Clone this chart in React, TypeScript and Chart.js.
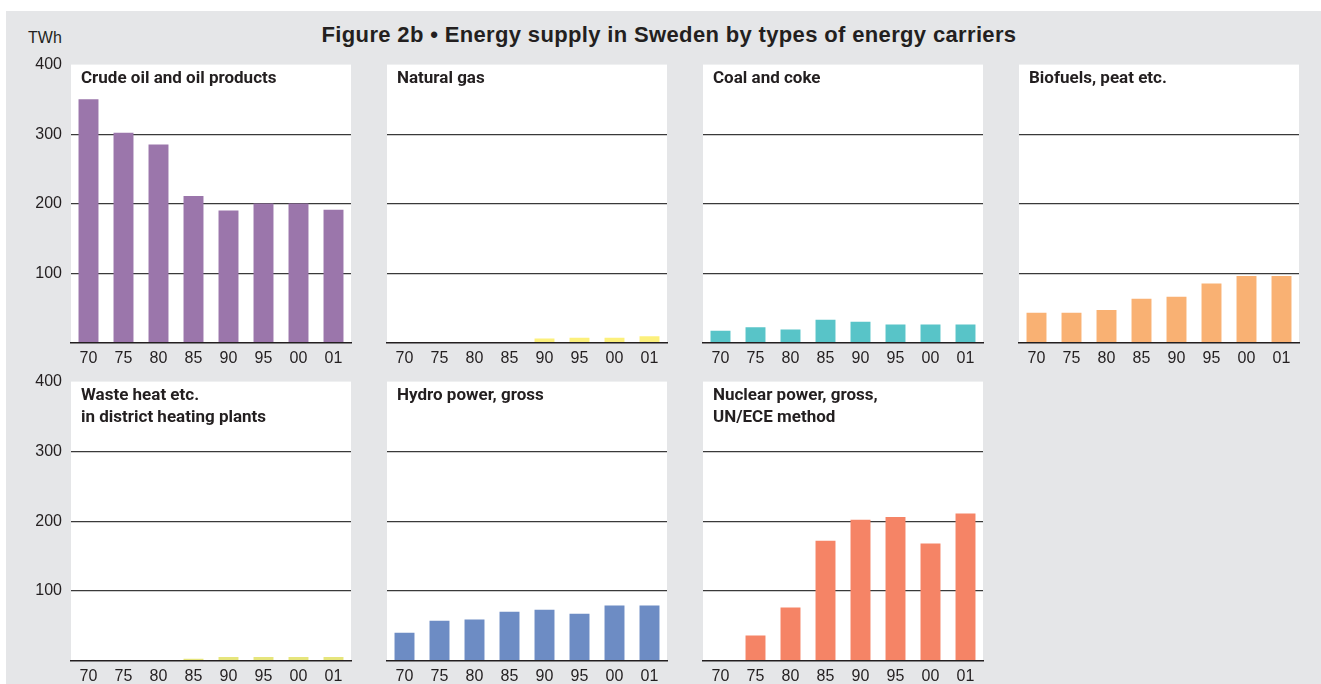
import React, { useEffect, useRef } from 'react';
import { Chart, registerables } from 'chart.js';

Chart.register(...registerables);

// ---- Data (TWh) ----
const years = ['70', '75', '80', '85', '90', '95', '00', '01'];
const crudeOil = [350, 302, 285, 211, 190, 200, 200, 191];
const naturalGas = [0, 0, 0, 0, 6, 7, 7, 9];
const coalCoke = [17, 22, 19, 33, 30, 26, 26, 26];
const biofuels = [43, 43, 47, 63, 66, 85, 96, 96];
const wasteHeat = [0, 0, 0, 2.5, 5, 5, 5, 5];
const hydroPower = [40, 57, 59, 70, 73, 67, 79, 79];
const nuclearPower = [0, 36, 76, 172, 202, 206, 168, 211];
const yTicks = [0, 100, 200, 300, 400];

const figureTitle = 'Figure 2b \u2022 Energy supply in Sweden by types of energy carriers';
const unitLabel = 'TWh';

const panels = [
  { title: ['Crude oil and oil products'], data: crudeOil, color: '#9b76ab', col: 0, row: 0 },
  { title: ['Natural gas'], data: naturalGas, color: '#fcf07c', col: 1, row: 0 },
  { title: ['Coal and coke'], data: coalCoke, color: '#58c4c8', col: 2, row: 0 },
  { title: ['Biofuels, peat etc.'], data: biofuels, color: '#f9b173', col: 3, row: 0 },
  { title: ['Waste heat etc.', 'in district heating plants'], data: wasteHeat, color: '#e6e57c', col: 0, row: 1 },
  { title: ['Hydro power, gross'], data: hydroPower, color: '#6d8cc4', col: 1, row: 1 },
  { title: ['Nuclear power, gross,', 'UN/ECE method'], data: nuclearPower, color: '#f58466', col: 2, row: 1 },
];

const TEXT = '#231f20';
const PLOT_W = 280;
const PAD_L = 50;
const PAD_T = 12;
const PAD_R = 4;
const X_H = 30;
const colLeft = [71, 387, 703, 1019];
const rowTop = [65, 382];
const rowH = [278, 279];

const panelPlugin = {
  id: 'panelDecor',
  beforeDraw(chart: any) {
    const { ctx, chartArea } = chart;
    ctx.save();
    ctx.fillStyle = '#ffffff';
    ctx.fillRect(chartArea.left, chartArea.top, chartArea.right - chartArea.left, chartArea.bottom - chartArea.top);
    ctx.restore();
  },
  afterDraw(chart: any, _args: any, opts: any) {
    const { ctx, chartArea } = chart;
    const lines: string[] = opts.title || [];
    ctx.save();
    ctx.fillStyle = TEXT;
    ctx.font = 'bold 17px Roboto';
    ctx.textBaseline = 'alphabetic';
    ctx.textAlign = 'left';
    lines.forEach((l, i) => {
      ctx.fillText(l, chartArea.left + 10, chartArea.top + 18 + i * 22);
    });
    ctx.restore();
  },
};

function Panel({ p }: { p: any }) {
  const ref = useRef<HTMLCanvasElement | null>(null);
  const plotH = rowH[p.row];
  const canvasW = PAD_L + PLOT_W + PAD_R;
  const canvasH = PAD_T + plotH + X_H + 10;
  useEffect(() => {
    if (!ref.current) return;
    const font = { family: '"Liberation Sans", Arial, sans-serif', size: 16 };
    const state = { xh: X_H };
    const chart: any = new Chart(ref.current, {
      type: 'bar',
      data: {
        labels: years,
        datasets: [
          {
            data: p.data,
            backgroundColor: p.color,
            borderWidth: 0,
            barPercentage: 0.57,
            categoryPercentage: 1,
          },
        ],
      },
      options: {
        animation: false,
        responsive: false,
        devicePixelRatio: 1,
        layout: { padding: { top: PAD_T, right: PAD_R, left: 0, bottom: 0 } },
        plugins: {
          legend: { display: false },
          tooltip: { enabled: false },
          panelDecor: { title: p.title },
        } as any,
        scales: {
          x: {
            grid: { display: false, drawTicks: false },
            border: { display: true, color: TEXT, width: 1.5 },
            ticks: { font, color: TEXT, padding: 6, maxRotation: 0, autoSkip: false },
            afterFit: (s: any) => {
              s.height = state.xh;
            },
          },
          y: {
            min: yTicks[0],
            max: yTicks[yTicks.length - 1],
            afterBuildTicks: (s: any) => {
              s.ticks = yTicks.map((v) => ({ value: v }));
            },
            ticks: {
              font,
              color: TEXT,
              padding: 9,
              callback: (v: any) => (p.col === 0 && Number(v) > 0 ? String(v) : ''),
            },
            grid: {
              drawTicks: false,
              lineWidth: 1.2,
              color: (c: any) =>
                c.tick && (c.tick.value === 0 || c.tick.value === 400) ? 'rgba(0,0,0,0)' : '#3a3a3a',
            },
            border: { display: false },
            afterFit: (s: any) => {
              s.width = PAD_L;
            },
          },
        },
      } as any,
      plugins: [panelPlugin],
    });
    // adjust so the plot area has exactly the wanted height, then place the canvas
    for (let k = 0; k < 3; k++) {
      const a = chart.chartArea;
      const h = a.bottom - a.top;
      if (Math.abs(h - plotH) < 0.5) break;
      state.xh += h - plotH;
      chart.update('none');
    }
    ref.current.style.top = rowTop[p.row] - chart.chartArea.top + 'px';
    ref.current.style.left = colLeft[p.col] - chart.chartArea.left + 'px';
    return () => chart.destroy();
  }, [p]);

  return (
    <canvas
      ref={ref}
      width={canvasW}
      height={canvasH}
      style={{
        position: 'absolute',
        left: colLeft[p.col] - PAD_L,
        top: rowTop[p.row] - PAD_T,
        width: canvasW,
        height: canvasH,
        display: 'block',
      }}
    />
  );
}

export default function App() {
  return (
    <div
      style={{
        position: 'fixed',
        left: 0,
        top: 0,
        width: 1321,
        height: 684,
        background: '#ffffff',
        overflow: 'hidden',
      }}
    >
      <div style={{ position: 'absolute', left: 6, top: 11, right: 0, bottom: 0, background: '#e5e6e8' }} />
      <div
        style={{
          position: 'absolute',
          left: 0,
          width: 1338,
          top: 24,
          textAlign: 'center',
          font: 'bold 22px "Liberation Sans", Arial, sans-serif',
          letterSpacing: '0.35px',
          lineHeight: '22px',
          color: TEXT,
          whiteSpace: 'nowrap',
        }}
      >
        {figureTitle}
      </div>
      <div
        style={{
          position: 'absolute',
          left: 28,
          top: 30,
          font: '16px "Liberation Sans", Arial, sans-serif',
          lineHeight: '16px',
          color: TEXT,
        }}
      >
        {unitLabel}
      </div>
      {panels.map((p, i) => (
        <Panel key={i} p={p} />
      ))}
    </div>
  );
}
